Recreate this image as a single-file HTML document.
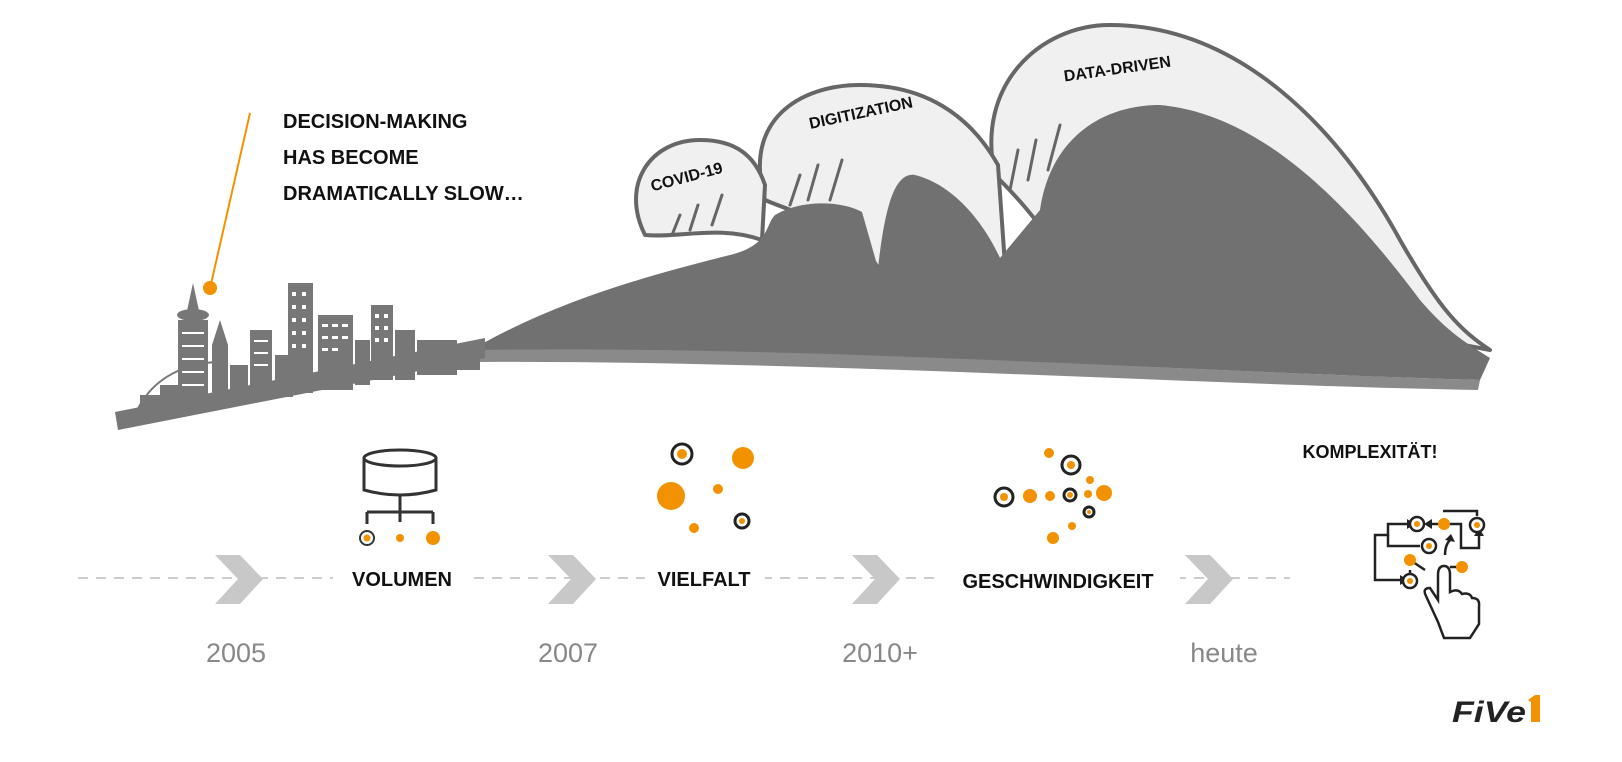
<!DOCTYPE html>
<html><head><meta charset="utf-8"><style>
body{margin:0;background:#fff;}
svg{display:block;font-family:"Liberation Sans",sans-serif;}
</style></head><body>
<svg width="1622" height="762" viewBox="0 0 1622 762">
<!-- callout -->
<line x1="250" y1="113" x2="211" y2="284" stroke="#f39200" stroke-width="2"/>
<circle cx="210" cy="288" r="7" fill="#f39200"/>
<g font-weight="bold" font-size="20" fill="#111">
<text x="283" y="128">DECISION-MAKING</text>
<text x="283" y="164">HAS BECOME</text>
<text x="283" y="200">DRAMATICALLY SLOW…</text>
</g>
<!-- waves light -->
<g fill="#f0f0f0" stroke="#666" stroke-width="4" stroke-linejoin="round">
<path d="M995,175 C975,85 1040,25 1110,25 C1240,25 1340,130 1400,240 C1440,310 1460,330 1490,350 L1070,270 C1040,220 1010,190 995,175 Z"/>
<path d="M765,200 C742,120 800,85 860,85 C925,85 970,115 998,165 L1005,265 L880,272 C860,230 800,215 765,200 Z"/>
<path d="M645,235 C620,185 650,140 700,140 C735,140 755,155 765,185 L762,240 C720,225 680,238 645,235 Z"/>
</g>
<!-- foam drips -->
<g fill="none" stroke="#666" stroke-width="3" stroke-linecap="round">
<path d="M672,235 L680,215 M690,230 L698,205 M712,225 L722,195"/>
<path d="M790,205 L800,175 M808,200 L818,165 M830,200 L842,160"/>
<path d="M1010,190 L1018,150 M1028,180 L1036,140 M1048,170 L1060,125"/>
</g>
<!-- sea dark -->
<path d="M480,345 C560,300 650,275 730,255 C770,245 765,225 775,215 C800,200 840,200 862,212 L878,268 C885,205 895,172 915,175 C955,185 985,225 1000,258 L1040,210 C1050,140 1100,105 1160,105 C1270,115 1360,220 1420,300 C1450,335 1470,345 1490,358 L1480,380 C1200,372 900,350 480,352 Z" fill="#717171"/>
<path d="M480,350 C800,345 1200,372 1480,380 L1478,390 C1200,385 800,360 480,362 Z" fill="#8a8a8a"/>
<g font-weight="bold" font-size="16" fill="#111">
<text x="688" y="182" text-anchor="middle" transform="rotate(-15 688 182)">COVID-19</text>
<text x="862" y="118" text-anchor="middle" transform="rotate(-12 862 118)">DIGITIZATION</text>
<text x="1118" y="74" text-anchor="middle" transform="rotate(-8 1118 74)">DATA-DRIVEN</text>
</g>
<!-- city -->
<g fill="#777">
<polygon points="115,412 485,338 485,358 118,430"/>
<path d="M135,415 C150,380 180,365 215,362" fill="none" stroke="#777" stroke-width="2"/>
<rect x="178" y="320" width="30" height="90"/><polygon points="185,320 201,320 193,283"/>
<ellipse cx="193" cy="315" rx="16" ry="6"/>
<rect x="140" y="395" width="30" height="20"/><rect x="160" y="385" width="20" height="25"/>
<polygon points="212,410 212,345 220,320 228,345 228,405"/>
<rect x="230" y="365" width="18" height="38"/>
<rect x="250" y="330" width="22" height="70"/>
<rect x="275" y="355" width="18" height="42"/>
<rect x="288" y="283" width="25" height="110"/>
<rect x="318" y="315" width="35" height="75"/>
<rect x="355" y="340" width="15" height="45"/>
<rect x="371" y="305" width="22" height="75"/>
<rect x="395" y="330" width="20" height="50"/>
<rect x="417" y="340" width="40" height="35"/>
<rect x="455" y="345" width="25" height="25"/>
</g>
<g fill="#fff">
<rect x="182" y="332" width="22" height="2"/><rect x="182" y="345" width="22" height="2"/><rect x="182" y="358" width="22" height="2"/><rect x="182" y="371" width="22" height="2"/><rect x="182" y="384" width="22" height="2"/>
<rect x="292" y="292" width="4" height="4"/><rect x="302" y="292" width="4" height="4"/><rect x="292" y="305" width="4" height="4"/><rect x="302" y="305" width="4" height="4"/><rect x="292" y="318" width="4" height="4"/><rect x="302" y="318" width="4" height="4"/><rect x="292" y="331" width="4" height="4"/><rect x="302" y="331" width="4" height="4"/><rect x="292" y="344" width="4" height="4"/><rect x="302" y="344" width="4" height="4"/>
<rect x="322" y="324" width="6" height="3"/><rect x="332" y="324" width="6" height="3"/><rect x="342" y="324" width="6" height="3"/><rect x="322" y="336" width="6" height="3"/><rect x="332" y="336" width="6" height="3"/><rect x="342" y="336" width="6" height="3"/><rect x="322" y="348" width="6" height="3"/><rect x="332" y="348" width="6" height="3"/>
<rect x="375" y="314" width="4" height="4"/><rect x="384" y="314" width="4" height="4"/><rect x="375" y="326" width="4" height="4"/><rect x="384" y="326" width="4" height="4"/><rect x="375" y="338" width="4" height="4"/><rect x="384" y="338" width="4" height="4"/>
<rect x="254" y="340" width="14" height="2"/><rect x="254" y="352" width="14" height="2"/><rect x="254" y="364" width="14" height="2"/>
</g>
<!-- timeline -->
<line x1="78" y1="578" x2="1290" y2="578" stroke="#ccc" stroke-width="2" stroke-dasharray="10 8"/>
<g fill="#c8c8c8">
<polygon points="215,555 240,555 263,579 240,604 215,604 238,579"/>
<polygon points="548,555 573,555 596,579 573,604 548,604 571,579"/>
<polygon points="852,555 877,555 900,579 877,604 852,604 875,579"/>
<polygon points="1185,555 1210,555 1233,579 1210,604 1185,604 1208,579"/>
</g>
<g fill="#fff"><rect x="333" y="560" width="140" height="36"/><rect x="645" y="560" width="120" height="36"/><rect x="935" y="560" width="245" height="36"/></g>
<g font-weight="bold" font-size="20" fill="#111" text-anchor="middle">
<text x="402" y="586">VOLUMEN</text><text x="704" y="586">VIELFALT</text><text x="1058" y="588">GESCHWINDIGKEIT</text>
<text x="1370" y="458" font-size="18">KOMPLEXITÄT!</text>
</g>
<g font-size="27" fill="#888" text-anchor="middle">
<text x="236" y="662">2005</text><text x="568" y="662">2007</text><text x="880" y="662">2010+</text><text x="1224" y="662">heute</text>
</g>
<!-- database icon -->
<g fill="none" stroke="#333" stroke-width="3">
<ellipse cx="400" cy="458" rx="36" ry="8"/>
<path d="M364,458 V490 Q400,500 436,490 V458"/>
<path d="M400,496 V522 M367,512 H433 M367,512 V524 M433,512 V524"/>
</g>
<circle cx="367" cy="538" r="7" fill="#fff" stroke="#333" stroke-width="2"/><circle cx="367" cy="538" r="3.5" fill="#f39200"/>
<circle cx="400" cy="538" r="4" fill="#f39200"/><circle cx="433" cy="538" r="7" fill="#f39200"/>
<!-- vielfalt -->
<g fill="#f39200">
<circle cx="743" cy="458" r="11"/><circle cx="671" cy="496" r="14"/><circle cx="718" cy="489" r="5"/><circle cx="694" cy="528" r="5"/>
<circle cx="1030" cy="496" r="7"/><circle cx="1050" cy="496" r="5"/><circle cx="1088" cy="494" r="4"/><circle cx="1104" cy="493" r="8"/><circle cx="1049" cy="453" r="5"/><circle cx="1090" cy="480" r="4"/><circle cx="1072" cy="526" r="4"/><circle cx="1053" cy="538" r="6"/>
</g>
<g fill="none" stroke="#222" stroke-width="3">
<circle cx="682" cy="454" r="10"/><circle cx="742" cy="521" r="7"/>
<circle cx="1004" cy="497" r="9"/><circle cx="1070" cy="495" r="6"/><circle cx="1071" cy="465" r="9"/><circle cx="1089" cy="512" r="5"/>
</g>
<g fill="#f39200"><circle cx="682" cy="454" r="5"/><circle cx="742" cy="521" r="3"/><circle cx="1004" cy="497" r="4"/><circle cx="1070" cy="495" r="3"/><circle cx="1071" cy="465" r="4"/><circle cx="1089" cy="512" r="2"/></g>
<!-- complexity icon -->
<g fill="none" stroke="#222" stroke-width="2.5">
<path d="M1407,524 H1388 V535 H1375 V580 H1400"/><path d="M1388,535 V546 H1420"/>
<path d="M1444,524 H1461 V548 H1479 V536"/><path d="M1444,524 H1430"/>
<path d="M1443,511 H1477 V516"/><path d="M1410,560 L1425,570 M1410,570 V575 M1462,567 H1450 M1445,555 Q1445,545 1450,540"/>
<path d="M1438,622 L1426,596 Q1422,588 1430,588 L1438,600 V575 Q1438,566 1444,566 Q1450,566 1450,575 V592 Q1458,588 1462,594 Q1470,592 1472,598 Q1480,598 1479,606 V624 L1470,638 H1444 Z"/>
</g>
<g fill="#222"><polygon points="1407,519 1415,524 1407,529"/><polygon points="1432,519 1424,524 1432,529"/><polygon points="1474,536 1479,528 1484,536"/><polygon points="1400,575 1408,580 1400,585"/><polygon points="1445,540 1451,534 1455,542"/></g>
<g fill="#fff" stroke="#222" stroke-width="2.5"><circle cx="1417" cy="524" r="7"/><circle cx="1477" cy="525" r="7"/><circle cx="1429" cy="546" r="7"/><circle cx="1410" cy="581" r="7"/></g>
<g fill="#f39200"><circle cx="1417" cy="524" r="3"/><circle cx="1477" cy="525" r="3"/><circle cx="1429" cy="546" r="3"/><circle cx="1410" cy="581" r="3"/><circle cx="1444" cy="524" r="6"/><circle cx="1410" cy="560" r="6"/><circle cx="1462" cy="567" r="6"/></g>
<!-- logo -->
<text x="1452" y="722" font-size="30" font-weight="bold" font-style="italic" fill="#222" textLength="74" lengthAdjust="spacingAndGlyphs">FiVe</text>
<polygon points="1528,700 1535,695 1540,695 1540,722 1531,722 1531,702" fill="#f39200"/>
</svg>
</body></html>
